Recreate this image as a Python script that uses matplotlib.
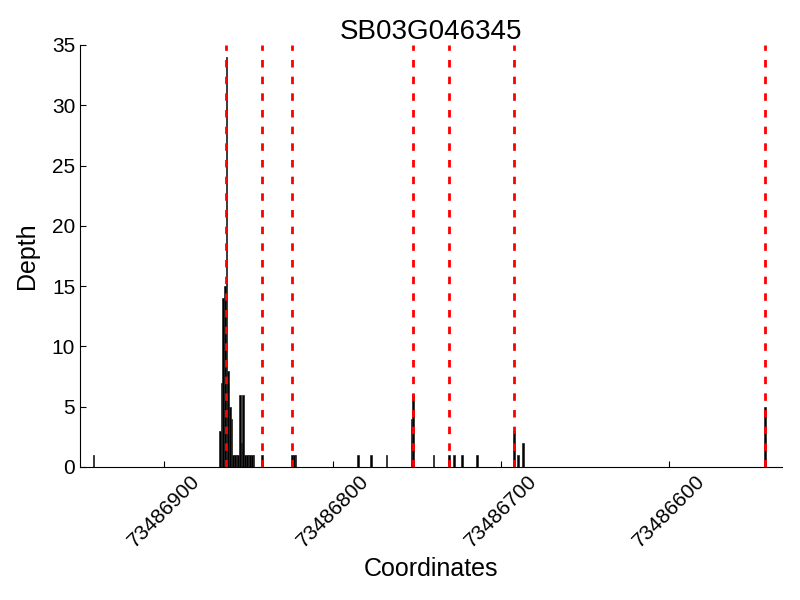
import matplotlib
matplotlib.use("Agg")
import matplotlib.pyplot as plt

plt.rcParams['font.family'] = ['Liberation Sans', 'DejaVu Sans']

title = "SB03G046345"

# bar positions (genomic coordinates) and depths
positions = [73486942,
             73486867, 73486866, 73486865, 73486864, 73486863, 73486862, 73486861,
             73486860, 73486859, 73486858, 73486857, 73486856, 73486855, 73486854,
             73486853, 73486852, 73486851, 73486850, 73486849, 73486848, 73486847,
             73486842,
             73486824, 73486823, 73486822,
             73486785, 73486777, 73486768,
             73486753, 73486752,
             73486740, 73486731, 73486728, 73486723, 73486714,
             73486692, 73486690, 73486687,
             73486543]
depths = [1,
          3, 7, 14, 15, 34, 8, 5,
          4, 1, 1, 1, 1, 6, 2,
          6, 1, 1, 1, 1, 1, 1,
          1,
          1, 1, 1,
          1, 1, 1,
          4, 6,
          1, 1, 1, 1, 1,
          3, 1, 2,
          5]

# red dashed marker lines
markers = [73486863, 73486842, 73486824, 73486752, 73486731, 73486692, 73486543]

xticks = [73486900, 73486800, 73486700, 73486600]
yticks = [0, 5, 10, 15, 20, 25, 30, 35]

fig = plt.figure(figsize=(8, 6), dpi=100)
ax = fig.add_axes([0.1, 0.2217, 0.8775, 0.7033])

ax.bar(positions, depths, width=1.0, color='black', edgecolor='#222222',
       linewidth=0.5, align='center', zorder=2)
for m in markers:
    ax.axvline(m, color='red', linestyle=(0, (2.7, 3.3)), linewidth=2, zorder=3)

ax.set_xlim(73486950, 73486533)
ax.set_ylim(0, 35)
ax.set_xticks(xticks)
ax.set_xticklabels([str(t) for t in xticks], rotation=45, ha='center')
ax.set_yticks(yticks)
ax.tick_params(direction='in', length=4, labelsize=15, top=False, right=False)
ax.spines['top'].set_visible(False)
ax.spines['right'].set_visible(False)

ax.set_title(title, fontsize=20, pad=3)
ax.set_xlabel("Coordinates", fontsize=18)
ax.set_ylabel("Depth", fontsize=18, labelpad=9)

fig.savefig("out.png", dpi=100)
